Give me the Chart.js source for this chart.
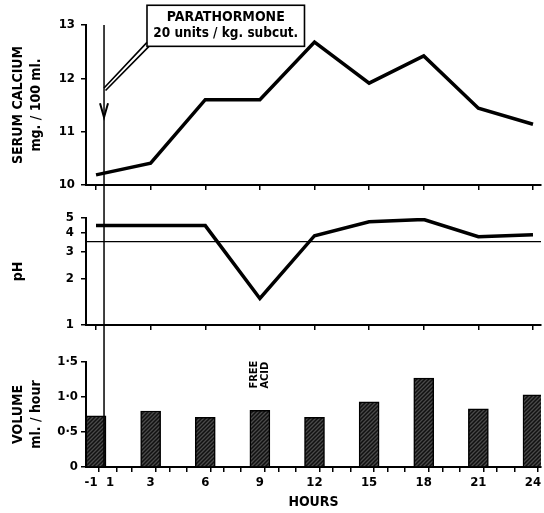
<!DOCTYPE html>
<html>
<head>
<meta charset="utf-8">
<script src="https://cdn.jsdelivr.net/npm/chart.js@4.4.0/dist/chart.umd.min.js"></script>
<style>
  html, body { margin: 0; padding: 0; background: #fff; }
  #wrap { position: relative; width: 544px; height: 513px; }
  canvas { position: absolute; left: 0; }
</style>
</head>
<body>
<div id="wrap">
  <canvas id="calcium" width="544" height="200" style="top:0px"></canvas>
  <canvas id="ph" width="544" height="140" style="top:200px"></canvas>
  <canvas id="volume" width="544" height="173" style="top:340px"></canvas>
</div>
<script>
// sampling times, hours
const hours = [0, 3, 6, 9, 12, 15, 18, 21, 24];
const serumCalcium = [10.19, 10.41, 11.6, 11.6, 12.68, 11.91, 12.42, 11.44, 11.14];
const gastricPH = [4.46, 4.46, 4.46, 1.49, 3.83, 4.73, 4.89, 3.77, 3.88];
const gastricVolume = [0.73, 0.80, 0.71, 0.81, 0.71, 0.93, 1.27, 0.83, 1.03];
const phReference = 3.5;

// axis labels
const hourLabels = ['-1', '1', '3', '6', '9', '12', '15', '18', '21', '24'];
const hourLabelAt = [-0.27, 0.77, 3, 6, 9, 12, 15, 18, 21, 24];
const calciumTicks = [10, 11, 12, 13];
const phTicks = [1, 2, 3, 4, 5];
const volumeTicks = [0, 0.5, 1.0, 1.5];

// injection and notes
const injectionHour = 0.44;
const noteText = ['PARATHORMONE', '20 units / kg. subcut.'];
const noteHours = [2.8, 11.45];
const noteCalcium = [12.6, 13.37];
const leaderCalcium = 11.8;
const arrowCalcium = 11.27;
const freeAcidHour = 9;
const freeAcidText = ['FREE', 'ACID'];

const X_MIN = -0.55, X_MAX = 24.44;
const FONT = "'DejaVu Sans Condensed', 'Liberation Sans Narrow', 'DejaVu Sans', sans-serif";

function pts(ys) {
  return hours.map((h, i) => ({ x: h, y: ys[i] }));
}

function hatch() {
  const c = document.createElement('canvas');
  c.width = 4; c.height = 4;
  const g = c.getContext('2d');
  g.fillStyle = '#4a4a4a';
  g.fillRect(0, 0, 4, 4);
  g.strokeStyle = '#111';
  g.lineWidth = 1.5;
  g.beginPath();
  g.moveTo(0, 4); g.lineTo(4, 0);
  g.moveTo(-1, 1); g.lineTo(1, -1);
  g.moveTo(3, 5); g.lineTo(5, 3);
  g.stroke();
  return g.createPattern(c, 'repeat');
}

const axisBorder = { display: true, color: '#000', width: 2 };
const axisGrid = { drawOnChartArea: false, drawTicks: true, tickLength: 5, color: '#000', lineWidth: 1.5 };

function hourAxis(height, tickValues, withLabels) {
  return {
    type: 'linear',
    min: X_MIN,
    max: X_MAX,
    offset: false,
    border: axisBorder,
    grid: Object.assign({}, axisGrid, {
      color: ctx => (withLabels && ctx.tick && hourLabelAt.includes(ctx.tick.value)) ? 'rgba(0,0,0,0)' : '#000'
    }),
    afterBuildTicks: s => { s.ticks = tickValues.map(v => ({ value: v })); },
    afterFit: s => { s.height = height; s.paddingLeft = 0; s.paddingRight = 0; },
    ticks: {
      display: withLabels,
      autoSkip: false,
      maxRotation: 0,
      padding: 3,
      color: '#000',
      font: { family: FONT, weight: 'bold', size: 13 },
      callback: v => {
        const i = hourLabelAt.indexOf(v);
        return i >= 0 ? hourLabels[i] : '';
      }
    },
    title: withLabels ? {
      display: true, text: 'HOURS', color: '#000',
      font: { family: FONT, weight: 'bold', size: 14 },
      padding: { top: 0, bottom: 2 }
    } : { display: false }
  };
}

function valueAxis(extra, tickValues, title, pad, fmt) {
  return Object.assign({
    border: axisBorder,
    grid: axisGrid,
    afterBuildTicks: s => { s.ticks = tickValues.map(v => ({ value: v })); },
    afterFit: s => { s.width = 86; s.paddingTop = 0; s.paddingBottom = 0; },
    ticks: {
      autoSkip: false,
      padding: pad,
      color: '#000',
      font: { family: FONT, weight: 'bold', size: 13 },
      callback: fmt || (v => String(v))
    },
    title: {
      display: true, text: title, color: '#000',
      font: { family: FONT, weight: 'bold', size: 14, lineHeight: 1.25 },
      padding: { top: 10, bottom: 0 }
    }
  }, extra);
}

// vertical line marking the injection, runs through all three panels
function injectionLine(fromArea, toArea) {
  return {
    id: 'injectionLine',
    afterDatasetsDraw(chart) {
      const x = chart.scales.x.getPixelForValue(injectionHour);
      const ctx = chart.ctx;
      ctx.save();
      ctx.strokeStyle = '#000';
      ctx.lineWidth = 1.5;
      ctx.beginPath();
      ctx.moveTo(x, fromArea ? chart.chartArea.top : 0);
      ctx.lineTo(x, toArea ? chart.chartArea.bottom : chart.height);
      ctx.stroke();
      ctx.restore();
    }
  };
}

const parathormoneNote = {
  id: 'parathormoneNote',
  afterDraw(chart) {
    const { x, y } = chart.scales;
    const ctx = chart.ctx;
    const left = x.getPixelForValue(noteHours[0]);
    const right = x.getPixelForValue(noteHours[1]);
    const top = y.getPixelForValue(noteCalcium[1]);
    const bottom = y.getPixelForValue(noteCalcium[0]);
    const xi = x.getPixelForValue(injectionHour);
    const yl = y.getPixelForValue(leaderCalcium);
    const ya = y.getPixelForValue(arrowCalcium);
    ctx.save();
    ctx.strokeStyle = '#000';
    ctx.lineWidth = 1.6;
    ctx.strokeRect(left, top, right - left, bottom - top);
    // double leader line
    ctx.beginPath();
    ctx.moveTo(xi, yl - 1);
    ctx.lineTo(left, bottom - 4);
    ctx.moveTo(xi + 1.5, yl + 1.5);
    ctx.lineTo(left + 2, bottom);
    ctx.stroke();
    // arrow head
    ctx.lineWidth = 2;
    ctx.beginPath();
    ctx.moveTo(xi - 4, ya - 14);
    ctx.lineTo(xi, ya);
    ctx.lineTo(xi + 4, ya - 14);
    ctx.stroke();
    ctx.fillStyle = '#000';
    ctx.textAlign = 'center';
    ctx.textBaseline = 'middle';
    const cx = (left + right) / 2;
    ctx.font = 'bold 14px ' + FONT;
    ctx.fillText(noteText[0], cx, top + 12);
    ctx.font = 'bold 13.5px ' + FONT;
    ctx.fillText(noteText[1], cx, top + 28);
    ctx.restore();
  }
};

const freeAcidNote = {
  id: 'freeAcidNote',
  afterDraw(chart) {
    const { x, y } = chart.scales;
    const ctx = chart.ctx;
    const cx = x.getPixelForValue(freeAcidHour);
    const base = y.getPixelForValue(1.12);
    ctx.save();
    ctx.fillStyle = '#000';
    ctx.font = 'bold 11px ' + FONT;
    ctx.textBaseline = 'middle';
    ctx.textAlign = 'left';
    ctx.translate(cx, base);
    ctx.rotate(-Math.PI / 2);
    ctx.fillText(freeAcidText[0], 0, -5.5);
    ctx.fillText(freeAcidText[1], 0, 5.5);
    ctx.restore();
  }
};

const common = {
  responsive: false,
  animation: false,
  events: [],
  plugins: { legend: { display: false }, tooltip: { enabled: false } }
};

// serum calcium
new Chart(document.getElementById('calcium'), {
  type: 'line',
  data: {
    datasets: [{
      data: pts(serumCalcium),
      borderColor: '#000',
      borderWidth: 3.5,
      borderJoinStyle: 'miter',
      pointRadius: 0,
      tension: 0
    }]
  },
  options: Object.assign({}, common, {
    layout: { padding: { top: 25, right: 3, left: 0, bottom: 0 } },
    scales: {
      x: hourAxis(15, hours, false),
      y: valueAxis({ type: 'linear', min: 10, max: 13 }, calciumTicks, ['SERUM CALCIUM', 'mg. / 100 ml.'], 6)
    }
  }),
  plugins: [injectionLine(true, false), parathormoneNote]
});

// gastric pH
new Chart(document.getElementById('ph'), {
  type: 'line',
  data: {
    datasets: [{
      data: pts(gastricPH),
      borderColor: '#000',
      borderWidth: 3.5,
      borderJoinStyle: 'miter',
      pointRadius: 0,
      tension: 0
    }, {
      data: [{ x: X_MIN, y: phReference }, { x: X_MAX, y: phReference }],
      borderColor: '#000',
      borderWidth: 1.3,
      pointRadius: 0
    }]
  },
  options: Object.assign({}, common, {
    layout: { padding: { top: 18, right: 3, left: 0, bottom: 0 } },
    scales: {
      x: hourAxis(15, hours, false),
      y: valueAxis({ type: 'logarithmic', min: 1, max: 5 }, phTicks, 'pH', 7)
    }
  }),
  plugins: [injectionLine(false, false)]
});

// gastric volume
const volumeTickMarks = hourLabelAt.slice();
hours.forEach(h => {
  [h - 0.55, h + 0.55, h + 1.5].forEach(v => { if (v > X_MIN && v < X_MAX) volumeTickMarks.push(v); });
});
volumeTickMarks.sort((a, b) => a - b);

new Chart(document.getElementById('volume'), {
  type: 'bar',
  data: {
    datasets: [{
      data: pts(gastricVolume),
      backgroundColor: hatch(),
      borderColor: '#000',
      borderWidth: 1.5,
      barThickness: 20
    }]
  },
  options: Object.assign({}, common, {
    layout: { padding: { top: 22, right: 3, left: 0, bottom: 0 } },
    scales: {
      x: hourAxis(46, volumeTickMarks, true),
      y: valueAxis({ type: 'linear', min: 0, max: 1.5 }, volumeTicks, ['VOLUME', 'ml. / hour'], 3,
        v => v === 0 ? '0' : v.toFixed(1).replace('.', '·'))
    }
  }),
  plugins: [injectionLine(false, true), freeAcidNote]
});
</script>
</body>
</html>
